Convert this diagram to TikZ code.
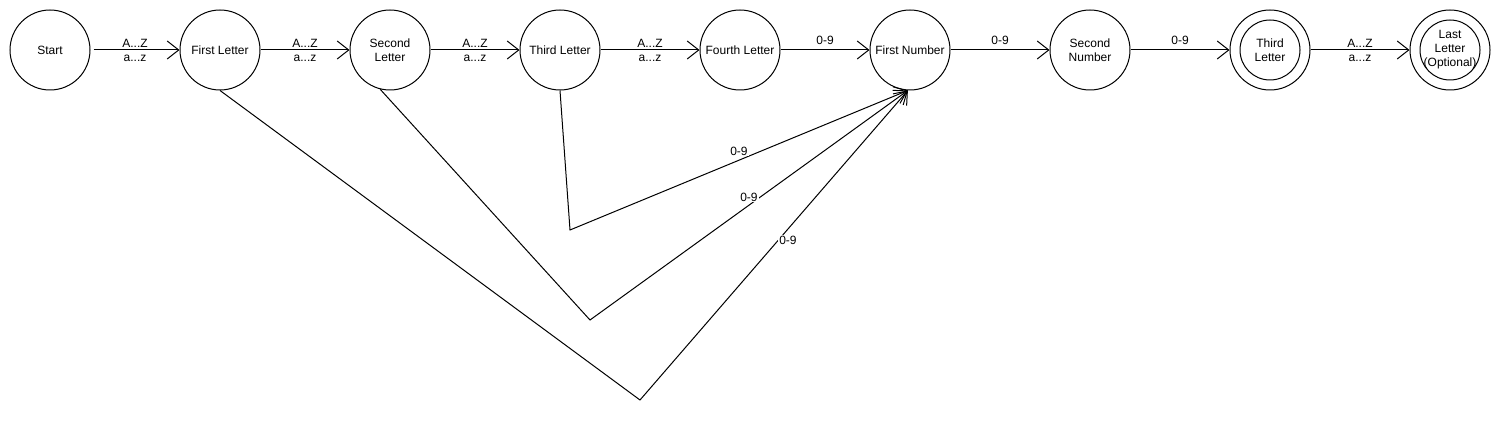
\documentclass[tikz,border=0pt]{standalone}
\usepackage{fontspec}
\setmainfont{Liberation Sans}
\usetikzlibrary{arrows.meta}
\begin{document}
\begin{tikzpicture}[x=1pt,y=-1pt, line width=1pt,
  state/.style={draw, circle, minimum size=80pt, inner sep=0pt, align=center, font=\fontsize{12}{14}\selectfont},
  tr/.style={-{Straight Barb[length=11.5pt,width=18pt]}},
  lbl/.style={font=\fontsize{12}{14}\selectfont, inner sep=0pt},
  lblw/.style={lbl, fill=white, inner sep=1pt}]
\useasboundingbox (0,0) rectangle (1500,430);
\node[state] (s)  at (50,50)   {Start};
\node[state] (l1) at (220,50)  {First Letter};
\node[state] (l2) at (390,50)  {Second\\Letter};
\node[state] (l3) at (560,50)  {Third Letter};
\node[state] (l4) at (740,50)  {Fourth Letter};
\node[state] (n1) at (910,50)  {First Number};
\node[state] (n2) at (1090,50) {Second\\Number};
\node[state] (n3) at (1270,50) {Third\\Letter};
\node[state] (ll) at (1450,50) {Last\\Letter\\(Optional)};
\draw (n3.center) circle[radius=30pt];
\draw (ll.center) circle[radius=30pt];

\draw[tr, shorten <=3pt] (s) -- node[lbl,above=2pt]{A...Z} node[lbl,below=5pt]{a...z} (l1);
\draw[tr] (l1) -- node[lbl,above=2pt]{A...Z} node[lbl,below=5pt]{a...z} (l2);
\draw[tr] (l2) -- node[lbl,above=2pt]{A...Z} node[lbl,below=5pt]{a...z} (l3);
\draw[tr] (l3) -- node[lbl,above=2pt]{A...Z} node[lbl,below=5pt]{a...z} (l4);
\draw[tr] (l4) -- node[lbl,above=5pt]{0-9} (n1);
\draw[tr] (n1) -- node[lbl,above=5pt]{0-9} (n2);
\draw[tr] (n2) -- node[lbl,above=5pt]{0-9} (n3);
\draw[tr] (n3) -- node[lbl,above=2pt]{A...Z} node[lbl,below=5pt]{a...z} (ll);

\coordinate (c3) at (570,230);
\coordinate (c2) at (590,320);
\coordinate (c1) at (640,400);
\draw[tr] (l3.south) -- (c3) -- node[lblw,pos=.5,yshift=9pt]{0-9} (n1.-93);
\draw[tr] (l2.-104) -- (c2) -- node[lblw,pos=.5,yshift=8pt]{0-9} (n1.-93);
\draw[tr] (l1.south) -- (c1) -- node[lblw,pos=.5,xshift=14pt,yshift=5pt]{0-9} (n1.-93);
\end{tikzpicture}
\end{document}
